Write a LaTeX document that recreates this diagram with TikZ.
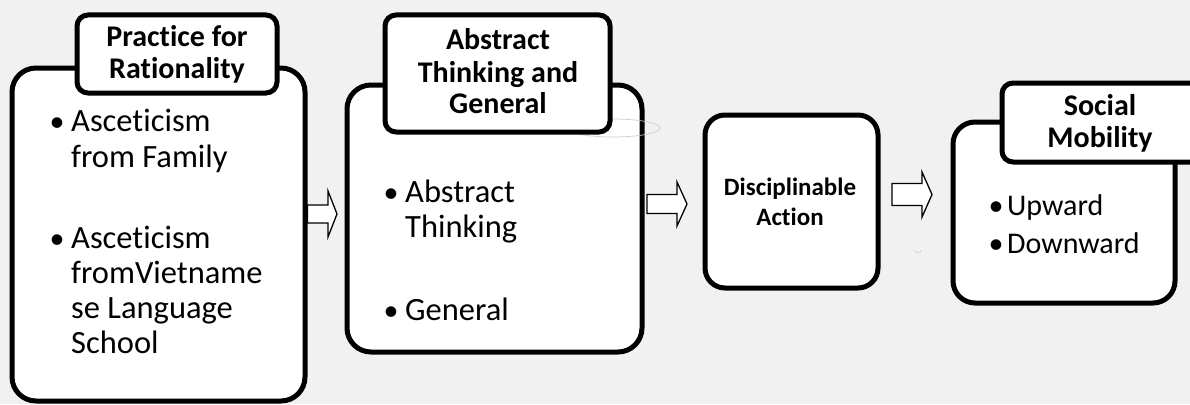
\documentclass[tikz,border=0pt]{standalone}
\usepackage{fontspec}
\setmainfont{Carlito}[Ligatures=NoCommon]
\definecolor{bgc}{RGB}{241,241,241}
\definecolor{faint}{RGB}{196,206,226}
\begin{document}
\begin{tikzpicture}[x=1pt,y=-1pt,
  bigbox/.style={draw, line width=5pt, fill=white, rounded corners=24pt, inner sep=0pt},
  hdrbox/.style={draw, line width=5pt, fill=white, rounded corners=11pt, inner sep=0pt},
  blockarrow/.style={draw, line width=1.3pt, fill=white, line join=miter},
  hdr/.style={font=\bfseries\fontsize{30}{31}\selectfont, anchor=base, inner sep=0pt},
  mid/.style={font=\bfseries\fontsize{25}{28}\selectfont, anchor=base, inner sep=0pt},
  body/.style={font=\fontsize{32.5}{36}\selectfont, anchor=base west, inner sep=0pt},
  bodys/.style={font=\fontsize{30}{34}\selectfont, anchor=base west, inner sep=0pt},
  bul/.style={font=\fontsize{30}{34}\selectfont, anchor=base, inner sep=0pt},
]
\fill[bgc] (0,0) rectangle (1190,404);
\useasboundingbox (0,0) rectangle (1190,404);

% ---- box 1
\node[bigbox, minimum width=293pt, minimum height=333pt] (b1) at (158.5,234.5) {};
\node[hdrbox, minimum width=200pt, minimum height=78pt] (h1) at (177,54) {};
\node[hdr] (h1a) at (177,47) {Practice for};
\node[hdr] (h1b) at (177,78) {Rationality};
\node[bul] (u1) at (57,131) {\textbullet};
\node[body] (t1a) at (71,131) {Asceticism};
\node[body] (t1b) at (71,167) {from Family};
\node[bul] (u2) at (57,248) {\textbullet};
\node[body] (t1c) at (71,248) {Asceticism};
\node[body] (t1d) at (71,283) {fromVietname};
\node[body] (t1e) at (71,318) {se Language};
\node[body] (t1f) at (71,353) {School};

% ---- box 2
\node[bigbox, minimum width=295pt, minimum height=267pt] (b2) at (494.5,218.5) {};
\draw[faint, line width=0.7pt] (613,128) ellipse [x radius=47, y radius=9];
\node[hdrbox, minimum width=225pt, minimum height=117pt] (h2) at (497.5,73.5) {};
\node[hdr] (h2a) at (498,50) {Abstract};
\node[hdr] (h2b) at (498,82) {Thinking and};
\node[hdr] (h2c) at (498,113) {General};
\node[bul] (u3) at (391,202) {\textbullet};
\node[body] (t2a) at (405,202) {Abstract};
\node[body] (t2b) at (405,237) {Thinking};
\node[bul] (u4) at (391,320) {\textbullet};
\node[body] (t2c) at (405,320) {General};

% ---- box 3
\node[bigbox, rounded corners=20pt, minimum width=173pt, minimum height=173pt] (b3) at (791.5,201.5) {};
\node[mid] (t3a) at (790,195) {Disciplinable};
\node[mid] (t3b) at (790,225) {Action};
\draw[faint, line width=0.6pt] (915,250) arc[start angle=180, end angle=0, radius=3];

% ---- box 4
\node[bigbox, rounded corners=22pt, minimum width=222pt, minimum height=181pt] (b4) at (1064,212.5) {};
\node[hdrbox, minimum width=200pt, minimum height=79pt] (h4) at (1102,122.5) {};
\node[hdr] (h4a) at (1100,115) {Social};
\node[hdr] (h4b) at (1100,147) {Mobility};
\node[bul] (u5) at (996,215) {\textbullet};
\node[bodys] (t4a) at (1007,215) {Upward};
\node[bul] (u6) at (996,253) {\textbullet};
\node[bodys] (t4b) at (1007,253) {Downward};

% ---- block arrows
\draw[blockarrow] (b1.east |- 0,205) -- (328,205) -- (328,191) -- (337,214) -- (328,237) -- (328,223) -- (b1.east |- 0,223) -- cycle;
\draw[blockarrow] (647,194.5) -- (677,194.5) -- (677,182) -- (687,204) -- (677,226) -- (677,213.5) -- (647,213.5) -- cycle;
\draw[blockarrow] (892,183.5) -- (922,183.5) -- (922,172) -- (932,194.5) -- (922,217) -- (922,205.5) -- (892,205.5) -- cycle;
\end{tikzpicture}
\end{document}
